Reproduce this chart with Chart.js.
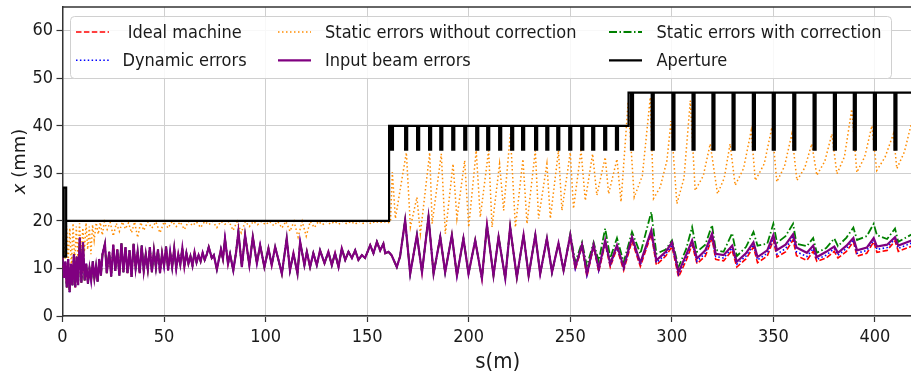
<!DOCTYPE html>
<html>
<head>
<meta charset="utf-8">
<script src="https://cdn.jsdelivr.net/npm/chart.js@4/dist/chart.umd.min.js"></script>
<style>
  html, body { margin: 0; padding: 0; overflow: hidden; background: #fff; }
  #wrap { width: 911px; height: 376px; overflow: hidden; }
</style>
</head>
<body>
<div id="wrap"><canvas id="myChart" width="933" height="376"></canvas></div>
<script>
// beam envelope along the line, common part of the four error cases (s < 250 m)
var sCore = [0, 0.7, 1.4, 2.1, 2.8, 3.5, 4.2, 4.9, 5.6, 6.3,
	7.0, 7.7, 8.5, 9.3, 10.1, 10.9, 11.7, 12.5, 13.3, 14.1,
	14.9, 15.7, 16.5, 17.3, 18.1, 18.9, 19.7, 20.9, 21.8, 23.0,
	24.0, 25.0, 26.0, 27.0, 28.0, 29.0, 30.0, 31.0, 32.0, 33.0,
	34.0, 35.0, 36.0, 37.0, 38.0, 39.0, 40.0, 41.0, 42.0, 43.0,
	44.0, 45.0, 46.0, 47.0, 48.0, 49.0, 50.0, 51.0, 52.0, 53.0,
	54.0, 55.0, 56.0, 57.0, 58.0, 59.0, 60.0, 61.0, 62.0, 63.0,
	64.0, 65.0, 66.0, 67.0, 68.0, 69.0, 70.0, 71.0, 72.0, 73.5,
	74.5, 76.0, 78.0, 79.0, 80.0, 81.5, 82.5, 84.1, 85.5, 86.6,
	88.3, 89.9, 92.0, 93.7, 95.7, 97.3, 99.4, 101.4, 103.0, 104.7,
	106.5, 108.0, 110.4, 112.0, 113.7, 115.7, 117.0, 119.1, 120.3, 121.9,
	123.5, 125.2, 126.8, 129.0, 130.9, 132.6, 134.2, 135.9, 137.5, 139.2,
	140.8, 142.5, 144.1, 145.7, 147.4, 149.0, 151.5, 153.1, 154.8, 156.4,
	158.0, 158.9, 160.5, 162.0, 164.6, 166.2, 168.7, 171.2, 174.5, 177.0,
	180.2, 182.7, 186.0, 188.4, 191.7, 194.2, 197.4, 199.9, 203.2, 206.5,
	209.0, 212.2, 214.7, 218.0, 220.4, 223.7, 227.0, 229.5, 232.8, 235.2,
	238.5, 241.0, 244.2, 246.7];
var xCore = [12.5, 8, 11.5, 6, 12, 5, 11, 6.5, 13, 6,
	12.5, 6.5, 16.5, 7, 15.5, 7.5, 11, 6.8, 10, 7.5,
	11.5, 8, 10.5, 7.2, 12, 8.5, 13, 15.2, 9, 13.5,
	8.3, 15, 9.5, 14, 8.5, 15.3, 9.2, 14.5, 9, 13.8,
	8.2, 15.2, 10, 13.5, 9, 14.8, 9.5, 13, 9.8, 14.5,
	9.2, 13.8, 10.2, 14, 9, 13.2, 10.5, 14.6, 9.6, 13.5,
	10.3, 14.2, 10, 13, 10.8, 14.3, 10.4, 13.2, 11, 12.6,
	10.6, 13.4, 11.3, 12.8, 11.5, 13.3, 11.8, 12.9, 14.5, 12.2,
	12.8, 9.8, 14, 12, 16.3, 11, 13, 9.6, 13.5, 17.7,
	10.3, 17, 10.7, 16.6, 11.1, 14.9, 10.3, 14.2, 10.7, 14.5,
	11.5, 8.9, 16.3, 9.6, 13.2, 8.9, 15.6, 10.7, 13.5, 10.3,
	13.2, 10.7, 13.8, 11.1, 13.5, 10.7, 13.2, 10.3, 14.2, 11.8,
	13.5, 12.2, 13.8, 11.8, 12.8, 12.2, 14.9, 13.2, 15.6, 13.8,
	15.2, 13.2, 13.5, 12.8, 10.3, 12.5, 20.1, 8.9, 17, 9.2,
	20.8, 8.9, 16.6, 9.2, 17, 8.5, 16.3, 8.9, 15.9, 7.9,
	19.1, 8.5, 16.6, 7.9, 18.7, 8.1, 17, 8.5, 17, 8.9,
	16.3, 9.2, 15.3, 9.6];

// s >= 250 m, where the cases split apart
var sTail = [250.0, 252.5, 255.8, 258.2, 261.5, 264.0, 267.2, 269.7, 273.0, 276.3,
	280.4, 284.5, 289.9, 292.4, 297.0, 300.1, 303.3, 307.0, 310.0, 312.4,
	316.5, 319.8, 321.6, 325.5, 329.7, 332.0, 336.5, 340.2, 342.2, 347.0,
	350.0, 351.8, 356.0, 359.7, 361.4, 366.5, 369.6, 371.4, 376.0, 380.0,
	381.8, 386.0, 389.4, 391.2, 396.0, 399.4, 401.0, 406.0, 409.9, 411.5,
	420.0];
var xIdealTail = [16.6, 9.8, 14.6, 8.3, 14.6, 9.3, 15.3, 10.3, 14.3, 9.6,
	15.8, 10.4, 17.2, 10.7, 12.6, 14.6, 8.2, 11.6, 15, 11,
	12.6, 16.3, 11.9, 11.6, 13.8, 10.3, 12, 14.5, 11.2, 12.6,
	16, 12.4, 13.5, 16, 12.7, 11.7, 13.6, 11.5, 12.2, 13.6,
	12.2, 13.6, 15.6, 12.6, 13.2, 15.6, 13.4, 13.8, 15.8, 13.6,
	15];
var xDynamicTail = [16.8, 10, 14.8, 8.6, 14.8, 9.6, 15.6, 10.6, 14.6, 10,
	16.2, 10.8, 17.6, 11.2, 13, 15, 8.8, 12.2, 15.5, 11.5,
	13.2, 16.8, 12.5, 12.2, 14.3, 10.9, 12.6, 15, 11.8, 13.2,
	16.4, 13, 14.2, 16.6, 13.5, 12.5, 14.2, 11.9, 12.8, 14.2,
	12.8, 14.2, 16, 13.2, 13.8, 16, 14, 14.4, 16.2, 14.2,
	15.7];
var xCorrTail = [17.3, 11.3, 15.5, 10.5, 15.5, 11.5, 18.4, 12.2, 16.4, 11.3,
	17.7, 13.1, 21.9, 13.1, 14, 15.9, 10.3, 14, 18.7, 13.5,
	15, 19.1, 13.9, 13.5, 17.4, 12.6, 14.5, 17.7, 14.8, 15.2,
	19.4, 15.4, 16.8, 19.4, 15.2, 14.7, 16.4, 13.3, 14.3, 16.3,
	14.7, 16.5, 18.6, 16, 16.8, 19.4, 17, 16.2, 18.4, 15.6,
	17.6];
var xBeamTail = [17, 10.3, 15, 8.9, 15, 9.9, 15.9, 11, 14.9, 10.3,
	16.6, 11.2, 18, 11.7, 13.5, 15.5, 9.2, 12.8, 15.9, 12.1,
	13.8, 17.3, 13.1, 12.8, 14.8, 11.4, 13.2, 15.5, 12.4, 13.8,
	17, 13.9, 15, 17.2, 14.4, 13.3, 14.8, 12.4, 13.5, 14.6,
	13.3, 14.8, 16.4, 13.8, 14.4, 16.4, 14.6, 15, 16.6, 14.8,
	16.2];

// static errors without correction
var sStatic = [0.5, 1.3, 2.0, 2.8, 3.6, 4.4, 5.2, 6.0, 6.8, 7.6,
	8.4, 9.2, 10.0, 10.8, 11.6, 12.4, 13.2, 14.0, 14.8, 15.6,
	16.6, 17.6, 18.6, 19.6, 20.6, 22, 23.5, 25, 26.5, 28,
	29.5, 31, 32.5, 34, 35.5, 37, 38.5, 40, 42, 44,
	46, 48, 50, 52, 54, 56, 58, 60, 62, 64,
	66, 68, 70, 72, 74, 76, 78, 80, 82, 84,
	86, 88, 90, 92, 94, 96, 98, 100, 102, 104,
	106, 108, 110, 112, 114, 116, 118, 120, 122, 124,
	126, 128, 130, 132, 134, 136, 138, 140, 142, 144,
	146, 148, 150, 152, 154, 156, 158, 160, 161.5,
	162.4, 163.9, 169.3, 171.3, 174.5, 176.2, 180.8, 182.0, 186.5, 188.5,
	192.3, 194.2, 198.0, 200.0, 203.7, 205.7, 209.8, 211.5, 215.2, 217.2,
	220.5, 223.0, 226.7, 228.7, 232.8, 234.4, 238.5, 240.2, 244.2, 245.9,
	250.0, 251.6, 255.3, 257.4, 261.0, 263.1, 267.2, 268.9, 273.0, 275.0,
	278.5,
	281.5, 285.5, 289.4, 291.0, 294.3, 297.6, 299.6, 302.5, 306.0, 309.1,
	311.5, 315.5, 318.9, 322.5, 325.8, 328.7, 331.2, 335.3, 339.1, 341.1,
	345.5, 349.3, 351.7, 355.5, 359.1, 361.6, 365.5, 368.9, 371.4, 375.3,
	378.8, 381.3, 385.0, 388.6, 391.1, 395.0, 398.5, 400.9, 405.0, 409.1,
	410.8, 414.5, 420.0];
var xStatic = [17, 12, 19, 11.5, 18.5, 10.5, 19.5, 11, 18.8, 12,
	19.5, 12.5, 18.5, 13.5, 19.6, 14, 18.8, 13, 19.2, 16,
	19.6, 17.2, 19.7, 17, 19.8, 18.2, 19.7, 16.8, 19.5, 17.8,
	19.8, 18.3, 19.6, 17.5, 19.8, 16.5, 19.7, 18, 19.8, 18.5,
	19.8, 17.5, 19.8, 18.5, 19.9, 18.8, 19.8, 18.2, 19.9, 19,
	19.8, 18.6, 19.9, 19.2, 19.9, 18.6, 19.9, 19.3, 19.9, 18,
	19.9, 17.5, 19.9, 18.8, 19.9, 19.2, 19.9, 19.2, 19.9, 19,
	19.9, 18.5, 19.9, 17.8, 19.9, 16.6, 19.9, 16.8, 19.9, 18.6,
	19.9, 19.2, 19.9, 19.3, 19.9, 19.3, 19.9, 19.4, 19.9, 19.3,
	19.9, 19.5, 19.9, 19.4, 19.9, 19.6, 19.9, 19.6, 19.8,
	30.3, 20.5, 34.4, 18.7, 25, 17.3, 34.4, 19.4, 34.1, 17.3,
	32, 20.5, 32.7, 18.7, 34.8, 20.8, 34.8, 18.7, 32, 22.2,
	38.3, 18.7, 33, 19.4, 34.8, 20.5, 32, 20.5, 34.8, 22.2,
	34.4, 22.6, 34.8, 24.3, 34.1, 25.4, 33.4, 25.7, 33, 24,
	45,
	25.0, 29.5, 46.0, 24.7, 27.1, 32.7, 41.0, 23.6, 29, 45.3,
	26.4, 29.5, 36.2, 25.7, 29, 36.2, 27.5, 31, 39, 28.5,
	32, 39.7, 28.2, 31.5, 38.3, 28.5, 31.2, 36.2, 29.6, 32.5,
	38.3, 29.9, 33.5, 43.5, 30.2, 33.5, 40, 30.6, 33.4, 38.3,
	31, 34.5, 44];

// aperture: entrance bar, plateaus and the notches (s in m, x in mm)
var apEntry = [0.6, 1.8];
var apEntryX = [12.5, 27];
var apStepS = [160.8, 278.7];
var apLevels = [20, 40, 47];
var notchBottom = 35;
var notches40 = [162.2, 169.2, 175.1, 181.0, 186.5, 192.4, 198.3, 204.2, 209.6, 215.5,
	221.4, 226.8, 233.2, 238.7, 244.1, 250.0, 255.9, 261.3, 267.2, 273.0];
var notches47 = [280.4, 290.6, 300.8, 310.7, 320.5, 330.4, 340.4, 350.2, 360.3, 370.3,
	380.3, 390.1, 400.0, 410.1];

var xTicks = [0, 50, 100, 150, 200, 250, 300, 350, 400];
var yTicks = [0, 10, 20, 30, 40, 50, 60];

var FONT = '"DejaVu Sans Condensed", "DejaVu Sans", sans-serif';

function toPoints(xs, ys) {
	return xs.map(function(s, i) { return {x: s, y: ys[i]}; });
}

function aperturePoints() {
	var p = [];
	p.push({x: apEntry[1], y: apLevels[0]});
	p.push({x: apEntry[1], y: apEntryX[0]});
	p.push({x: apEntry[0], y: apEntryX[0]});
	p.push({x: apEntry[0], y: apEntryX[1]});
	p.push({x: apEntry[1], y: apEntryX[1]});
	p.push({x: apEntry[1], y: apLevels[0]});
	p.push({x: apStepS[0], y: apLevels[0]});
	p.push({x: apStepS[0], y: apLevels[1]});
	notches40.forEach(function(n) {
		p.push({x: n - 0.5, y: apLevels[1]});
		p.push({x: n - 0.5, y: notchBottom});
		p.push({x: n + 0.5, y: notchBottom});
		p.push({x: n + 0.5, y: apLevels[1]});
	});
	p.push({x: apStepS[1], y: apLevels[1]});
	p.push({x: apStepS[1], y: apLevels[2]});
	notches47.forEach(function(n) {
		p.push({x: n - 0.5, y: apLevels[2]});
		p.push({x: n - 0.5, y: notchBottom});
		p.push({x: n + 0.5, y: notchBottom});
		p.push({x: n + 0.5, y: apLevels[2]});
	});
	p.push({x: 430, y: apLevels[2]});
	return p;
}

function line(label, color, width, dash, data) {
	return {
		label: label, data: data, borderColor: color, backgroundColor: color,
		borderWidth: width, borderDash: dash, pointRadius: 0, tension: 0, fill: false
	};
}

// first dataset is drawn on top
var datasets = [
	line("Aperture", "#000000", 2.2, [], aperturePoints()),
	line("Input beam errors", "#800080", 2.2, [], toPoints(sCore.concat(sTail), xCore.concat(xBeamTail))),
	line("Static errors with correction", "#008000", 1.8, [8, 2.5, 1.5, 2.5], toPoints(sCore.concat(sTail), xCore.concat(xCorrTail))),
	line("Dynamic errors", "#0000ff", 1.6, [1.5, 2.4], toPoints(sCore.concat(sTail), xCore.concat(xDynamicTail))),
	line(" Ideal machine", "#ff0000", 1.6, [5.5, 2.4], toPoints(sCore.concat(sTail), xCore.concat(xIdealTail))),
	line("Static errors without correction", "#ff8c00", 1.5, [1.5, 2.5], toPoints(sStatic, xStatic))
];

// legend columns as matplotlib fills them (column by column)
var legendCols = [[" Ideal machine", "Dynamic errors"],
	["Static errors without correction", "Input beam errors"],
	["Static errors with correction", "Aperture"]];

var boxLegend = {
	id: "boxLegend",
	afterDatasetsDraw: function(chart) {
		var ctx = chart.ctx;
		var a = chart.chartArea;
		var bx = a.left + 8, by = a.top + 9.5, bw = 821, bh = 62;
		var sampleX = [5.5, 207.5, 538.5];
		var textX = [52, 254.5, 586];
		var rowY = [15.5, 43.8];
		ctx.save();
		ctx.beginPath();
		ctx.roundRect(bx, by, bw, bh, 4);
		ctx.fillStyle = "rgba(255,255,255,0.85)";
		ctx.fill();
		ctx.strokeStyle = "#d0d0d0";
		ctx.lineWidth = 1;
		ctx.stroke();
		ctx.font = "18px " + FONT;
		ctx.textBaseline = "middle";
		ctx.textAlign = "left";
		for (var c = 0; c < legendCols.length; c++) {
			for (var r = 0; r < legendCols[c].length; r++) {
				var ds = chart.data.datasets.find(function(d) { return d.label === legendCols[c][r]; });
				var y = by + rowY[r];
				ctx.beginPath();
				ctx.setLineDash(ds.borderDash);
				ctx.strokeStyle = ds.borderColor;
				ctx.lineWidth = ds.borderWidth;
				ctx.moveTo(bx + sampleX[c], y);
				ctx.lineTo(bx + sampleX[c] + 33, y);
				ctx.stroke();
				ctx.setLineDash([]);
				ctx.fillStyle = "#1a1a1a";
				ctx.fillText(ds.label, bx + textX[c], y + 1);
			}
		}
		ctx.restore();
	}
};

var frameAndTitle = {
	id: "frameAndTitle",
	afterDraw: function(chart) {
		var ctx = chart.ctx;
		var a = chart.chartArea;
		ctx.save();
		// top spine
		ctx.beginPath();
		ctx.strokeStyle = "#333333";
		ctx.lineWidth = 1.5;
		ctx.moveTo(a.left, a.top);
		ctx.lineTo(a.right, a.top);
		ctx.stroke();
		// y title: italic x, upright unit
		var cy = (a.top + a.bottom) / 2;
		ctx.translate(20, cy);
		ctx.rotate(-Math.PI / 2);
		ctx.fillStyle = "#1a1a1a";
		ctx.textBaseline = "middle";
		ctx.textAlign = "left";
		var f1 = 'italic 18px "DejaVu Sans", sans-serif';
		var f2 = '18px "DejaVu Sans", sans-serif';
		ctx.font = f1;
		var w1 = ctx.measureText("x").width;
		ctx.font = f2;
		var w2 = ctx.measureText(" (mm)").width;
		var x0 = -(w1 + w2) / 2;
		ctx.font = f1;
		ctx.fillText("x", x0, 0);
		ctx.font = f2;
		ctx.fillText(" (mm)", x0 + w1, 0);
		ctx.restore();
	}
};

function noEdgePadding(s) {
	s.paddingTop = 0;
	s.paddingBottom = 0;
	s.paddingLeft = 0;
	s.paddingRight = 0;
}

document.addEventListener("DOMContentLoaded", function(event) {
	var ctx = document.getElementById("myChart").getContext("2d");
	var chart = new Chart(ctx, {
		type: "line",
		data: { datasets: datasets },
		plugins: [boxLegend, frameAndTitle],
		options: {
			responsive: false,
			animation: false,
			devicePixelRatio: 1,
			layout: { padding: { top: 7, left: 0, right: 0, bottom: 0 } },
			plugins: { legend: { display: false }, tooltip: { enabled: false } },
			scales: {
				x: {
					type: "linear",
					min: 0,
					max: 428.6,
					afterFit: function(s) { s.height = 60; noEdgePadding(s); },
					afterBuildTicks: function(s) { s.ticks = xTicks.map(function(v) { return {value: v}; }); },
					ticks: { font: { family: FONT, size: 18 }, color: "#1a1a1a", padding: 5, maxRotation: 0 },
					grid: { color: "#cfcfcf", lineWidth: 1, tickLength: 6, tickColor: "#333333", tickWidth: 1.2 },
					border: { color: "#333333", width: 1.5 },
					title: { display: true, text: "s(m)", font: { family: FONT, size: 22 }, color: "#1a1a1a", padding: { top: 0, bottom: 1 } }
				},
				y: {
					min: 0,
					max: 65,
					afterFit: function(s) { s.width = 62.5; noEdgePadding(s); },
					afterBuildTicks: function(s) { s.ticks = yTicks.map(function(v) { return {value: v}; }); },
					ticks: { font: { family: FONT, size: 18 }, color: "#1a1a1a", padding: 3.5 },
					grid: { color: "#cfcfcf", lineWidth: 1, tickLength: 6, tickColor: "#333333", tickWidth: 1.2 },
					border: { color: "#333333", width: 1.5 }
				}
			}
		}
	});
});
</script>
</body>
</html>
